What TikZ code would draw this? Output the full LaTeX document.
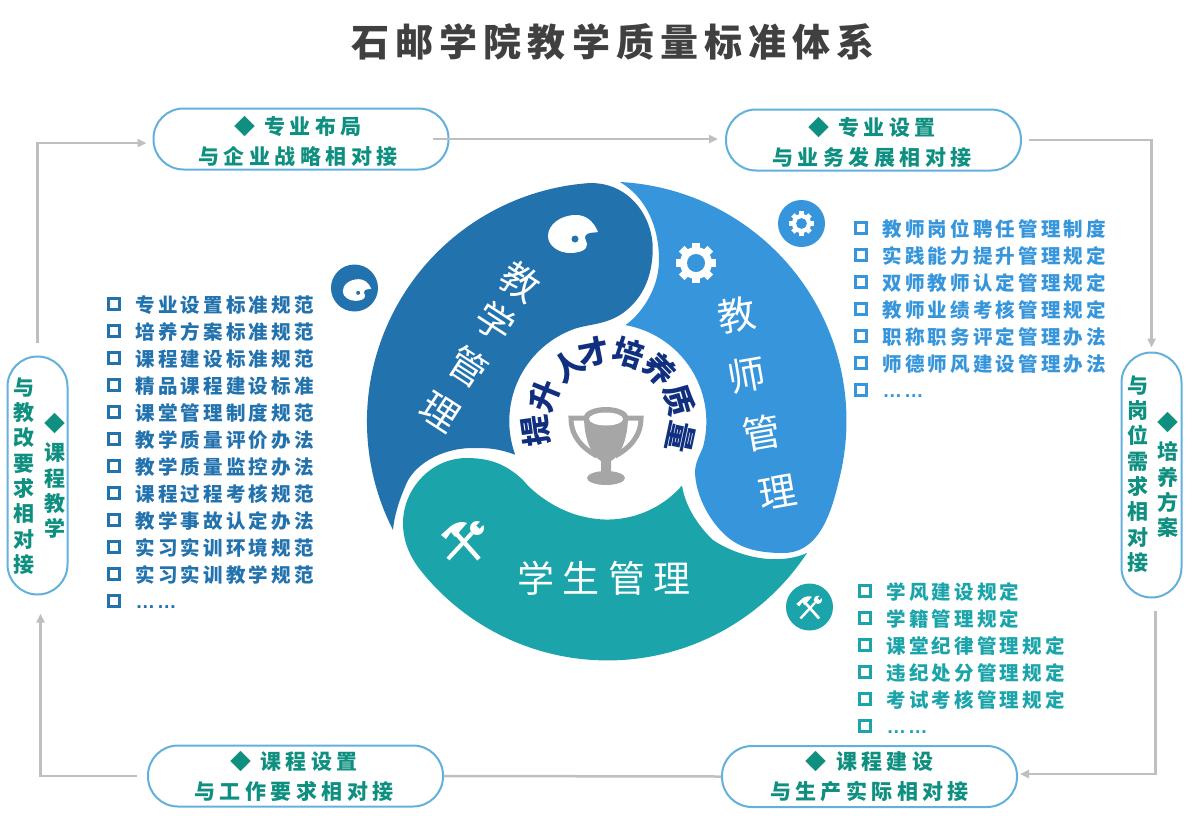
\documentclass[tikz,border=0pt]{standalone}
\usepackage{fontspec}
\usetikzlibrary{calc,arrows.meta}
\newfontfamily\cjkfont{Noto Sans CJK SC}
\newfontfamily\titlefont[LetterSpace=15.8]{Noto Sans CJK SC}
\newfontfamily\boxfont[LetterSpace=21]{Noto Sans CJK SC}
\newfontfamily\rulefont[LetterSpace=16]{Noto Sans CJK SC}
\newfontfamily\wedgefont[LetterSpace=22]{Noto Sans CJK SC}
\newfontfamily\dotfont{Liberation Sans}
\definecolor{teachblue}{HTML}{2272AE}
\definecolor{staffblue}{HTML}{3796DB}
\definecolor{studteal}{HTML}{1CA4AB}
\definecolor{boxedge}{HTML}{62B1DC}
\definecolor{boxtext}{HTML}{0E8F80}
\definecolor{flowgray}{HTML}{BFBFBF}
\definecolor{cupgray}{HTML}{A6A6A6}
\definecolor{ringnavy}{HTML}{10307F}
\tikzset{
	linkbox/.style={draw=boxedge,line width=2pt,rounded corners=30pt,inner sep=0pt,minimum width=295pt,minimum height=61pt,align=center,text=boxtext,font=\boxfont\bfseries\fontsize{21}{30}\selectfont},
	tallbox/.style={draw=boxedge,line width=2pt,rounded corners=30pt,inner sep=0pt,minimum width=60pt},
	talltext/.style={inner sep=0pt,align=center,text=boxtext,font=\cjkfont\bfseries\fontsize{21}{25.3}\selectfont},
	ruletext/.style={anchor=west,inner sep=0pt,text height=20pt,text depth=3pt,font=\rulefont\bfseries\fontsize{19.5}{24}\selectfont},
	chkbox/.style={line width=3pt},
	wedgechar/.style={inner sep=0pt,text=white,font=\cjkfont\fontsize{38}{40}\selectfont},
	ringchar/.style={inner sep=0pt,text=ringnavy,font=\cjkfont\bfseries\fontsize{31}{34}\selectfont},
	flowline/.style={draw=flowgray,line width=2.5pt},
	flowarrow/.style={flowline,-{Triangle[length=9pt,width=8pt]}},
}
\def\headstrut{\rule{0pt}{23pt}}
\def\ruleline[#1](#2)(#3,#4)#5{\draw[chkbox,draw=#1] (#3-5.5,#4-5.5) rectangle (#3+5.5,#4+5.5); \node[ruletext,text=#1] (#2) at (#3+21.5,#4) {#5};}
\def\ringglyph(#1)(#2:#3)#4{\node[ringchar,rotate=-#2] (#1) at ($(mid)+(#2-90:#3)$) {#4};}
\def\palette[#1](#2)(#3){\begin{scope}[shift={(#2)},scale=#3]
	\fill[white] (25,-2) .. controls (20,-14) and (12,-19) .. (3,-19) .. controls (-13,-19) and (-25,-9) .. (-25,2) .. controls (-25,12) and (-14,19) .. (-3,19) .. controls (6,19) and (15,16) .. (14,10) .. controls (13,5) and (10,3) .. (14,0) .. controls (17,-2) and (21,-1) .. (25,-2) -- cycle;
	\fill[#1] (2,5) circle (3.5);
	\end{scope}}
\def\gear[#1](#2)(#3){\begin{scope}[shift={(#2)},scale=#3]
	\fill[white] (0,0) circle (16);
	\draw[white,line width=#3*8pt] (0:20.3) -- (180:20.3);
	\draw[white,line width=#3*8pt] (45:20.3) -- (225:20.3);
	\draw[white,line width=#3*8pt] (90:20.3) -- (270:20.3);
	\draw[white,line width=#3*8pt] (135:20.3) -- (315:20.3);
	\fill[#1] (0,0) circle (9);
	\end{scope}}
\def\tools[#1](#2)(#3){\begin{scope}[shift={(#2)},scale=#3]
	\draw[white,line width=#3*4pt] (-15,19) -- (9,-7);
	\fill[white] (14,-12) circle (7);
	\draw[#1,line width=#3*4.5pt] (15,-13) -- (24,-22);
	\draw[white,line width=#3*4.5pt] (16,19) -- (-8,-8);
	\fill[white] (-22,-5) -- (-12,-14) .. controls (-7,-18) and (0,-19) .. (4,-17) -- (-3,-9) -- (-8,-3) -- (-12,-8) -- (-17,-1) -- cycle;
	\end{scope}}

\begin{document}
\begin{tikzpicture}[x=1pt,y=-1pt]
	%%%%% frame %%%%%
	\useasboundingbox (0,0) rectangle (1195,815);
	\coordinate (mid) at (607,421);
	
	\node[text=black!75,inner sep=0pt,font=\titlefont\bfseries\fontsize{38}{44}\selectfont] (maintitle) at (613,42) {石邮学院教学质量标准体系};
	
	%%%%% wedges %%%%%
	\fill[teachblue] (393,530) arc[start angle=153,end angle=266,radius=239]
		.. controls (628,182) and (652,215) .. (652.7,247)
		.. controls (653,280) and (640,302) .. (620,315)
		.. controls (605,324) and (592,324) .. (577,328)
		arc[start angle=252,end angle=160,radius=98]
		.. controls (497,448) and (487,448) .. (473,448)
		.. controls (440,448) and (412,466) .. (405,487)
		.. controls (398,503) and (394,518) .. (393,530) -- cycle;
	\fill[staffblue] (620,182) arc[start angle=273,end angle=372,radius=239]
		.. controls (833,507) and (822,553) .. (783,553)
		.. controls (755,553) and (737,547) .. (723,533)
		.. controls (708,518) and (696,495) .. (695,473)
		.. controls (695,462) and (700,455) .. (703,447)
		arc[start angle=15,end angle=-80,radius=98]
		.. controls (640,315) and (659,290) .. (659,260)
		.. controls (659,225) and (645,197) .. (620,182) -- cycle;
	\fill[studteal] (807,553) arc[start angle=33.4,end angle=142,radius=239]
		.. controls (409,555) and (403,540) .. (403,523)
		.. controls (403,490) and (430,458) .. (467,458)
		.. controls (495,458) and (510,468) .. (523,480)
		.. controls (535,495) and (560,512) .. (585,517)
		arc[start angle=103,end angle=41,radius=99]
		.. controls (685,505) and (697,525) .. (713,540)
		.. controls (735,555) and (775,567) .. (807,553) -- cycle;
	
	\node[wedgechar,rotate=-33] (jx1) at (520,282) {教};
	\node[wedgechar,rotate=-33] (jx2) at (495,322) {学};
	\node[wedgechar,rotate=-33] (jx3) at (468,367) {管};
	\node[wedgechar,rotate=-33] (jx4) at (440,412) {理};
	\node[wedgechar,rotate=10] (js1) at (737,315) {教};
	\node[wedgechar,rotate=10] (js2) at (747,375) {师};
	\node[wedgechar,rotate=10] (js3) at (762,433) {管};
	\node[wedgechar,rotate=10] (js4) at (778,492) {理};
	\node[wedgechar,font=\wedgefont\fontsize{37}{40}\selectfont] (xs) at (604,578) {学生管理};
	
	\palette[teachblue](573,234)(1)
	\gear[staffblue](696,263)(1)
	\tools[studteal](463,540)(1)
	
	%%%%% cup and ring %%%%%
	\draw[cupgray,line width=5pt] (586,418) -- (571,418) .. controls (571,436) and (582,448) .. (597,456);
	\draw[cupgray,line width=5pt] (626,418) -- (641,418) .. controls (641,436) and (630,448) .. (615,456);
	\fill[cupgray] (584,416) .. controls (584,440) and (592,456) .. (601,461) -- (601,472) .. controls (601,475) and (597,476) .. (595,477) -- (617,477) .. controls (615,476) and (611,475) .. (611,472) -- (611,461) .. controls (620,456) and (628,440) .. (628,416) -- cycle;
	\fill[cupgray] (606,417) ellipse[x radius=22,y radius=10];
	\fill[white] (606,419) ellipse[x radius=17,y radius=6.5];
	\fill[cupgray] (606,478) ellipse[x radius=19,y radius=7];
	
	\ringglyph(rg1)(-98:72){提}
	\ringglyph(rg2)(-68:67){升}
	\ringglyph(rg3)(-35:67){人}
	\ringglyph(rg4)(-11:70){才}
	\ringglyph(rg5)(18:71){培}
	\ringglyph(rg6)(46:74){养}
	\ringglyph(rg7)(74:75){质}
	\ringglyph(rg8)(102:75){量}
	
	%%%%% badges %%%%%
	\fill[teachblue] (354.5,288) circle (23.5);
	\palette[teachblue](357,290)(0.57)
	\fill[staffblue] (801.5,223.5) circle (23.5);
	\gear[staffblue](801.5,223.5)(0.6)
	\fill[studteal] (809.5,607) circle (23.5);
	\tools[studteal](809.5,607)(0.6)
	
	%%%%% link boxes %%%%%
	\node[linkbox] (zybj) at (301,139) {\headstrut ◆ 专业布局\kern6pt\\与企业战略相对接\kern6pt};
	\node[linkbox] (zysz) at (873.5,140) {\headstrut ◆ 专业设置\kern3pt\\与业务发展相对接\kern3pt};
	\node[linkbox] (kcjs) at (869.5,776.5) {◆ 课程建设\\与生产实际相对接};
	\node[linkbox] (kcsz) at (295.5,776) {◆ 课程设置\kern3pt\\与工作要求相对接\kern3pt};
	\node[tallbox,minimum height=245pt] (pyfa) at (1151.5,475) {};
	\node[tallbox,minimum height=238pt] (kcjx) at (37.5,475.5) {};
	\node[talltext] (pyl) at (1138,474) {与\\岗\\位\\需\\求\\相\\对\\接};
	\node[talltext] (pyr) at (1168,475) {◆\\[4pt]培\\养\\方\\案};
	\node[talltext] (jxl) at (24,476) {与\\教\\改\\要\\求\\相\\对\\接};
	\node[talltext] (jxr) at (55,476) {◆\\[4pt]课\\程\\教\\学};
	
	\draw[flowarrow] ([xshift=-17pt]zybj.east) -- ([xshift=-7pt]zybj.east -| zysz.west);
	\draw[flowarrow] ([xshift=7pt]zysz.east) -| ([yshift=4pt]pyfa.north);
	\draw[flowarrow] ([xshift=4pt,yshift=-12pt]pyfa.south) |- ([xshift=2pt,yshift=2.5pt]kcjs.east);
	\draw[flowline] (kcjs.west) -- (kcsz.east);
	\draw[flowarrow] ([xshift=-10pt]kcsz.west) -| ([xshift=3pt,yshift=-18pt]kcjx.south);
	\draw[flowarrow] ([yshift=13pt]kcjx.north) |- ([xshift=-6pt,yshift=-4pt]zybj.west);
	
	%%%%% rule lists %%%%%
	\ruleline[teachblue](ta)(114,304){专业设置标准规范}
	\ruleline[teachblue](tb)(114,331){培养方案标准规范}
	\ruleline[teachblue](tc)(114,358){课程建设标准规范}
	\ruleline[teachblue](td)(114,385){精品课程建设标准}
	\ruleline[teachblue](te)(114,412){课堂管理制度规范}
	\ruleline[teachblue](tf)(114,439){教学质量评价办法}
	\ruleline[teachblue](tg)(114,466){教学质量监控办法}
	\ruleline[teachblue](th)(114,493){课程过程考核规范}
	\ruleline[teachblue](ti)(114,520){教学事故认定办法}
	\ruleline[teachblue](tj)(114,547){实习实训环境规范}
	\ruleline[teachblue](tk)(114,574){实习实训教学规范}
	\ruleline[teachblue](tl)(114,601){\dotfont\raisebox{1.5pt}{…\kern2pt…}}
	
	\ruleline[staffblue](sa)(861,228){教师岗位聘任管理制度}
	\ruleline[staffblue](sb)(861,255){实践能力提升管理规定}
	\ruleline[staffblue](sc)(861,282){双师教师认定管理规定}
	\ruleline[staffblue](sd)(861,309){教师业绩考核管理规定}
	\ruleline[staffblue](se)(861,336){职称职务评定管理办法}
	\ruleline[staffblue](sf)(861,363){师德师风建设管理办法}
	\ruleline[staffblue](sg)(861,390){\dotfont\raisebox{1.5pt}{…\kern2pt…}}
	
	\ruleline[studteal](xa)(865,591){学风建设规定}
	\ruleline[studteal](xb)(865,618){学籍管理规定}
	\ruleline[studteal](xc)(865,645){课堂纪律管理规定}
	\ruleline[studteal](xd)(865,672){违纪处分管理规定}
	\ruleline[studteal](xe)(865,699){考试考核管理规定}
	\ruleline[studteal](xf)(865,726){\dotfont\raisebox{1.5pt}{…\kern2pt…}}
\end{tikzpicture}
\end{document}
